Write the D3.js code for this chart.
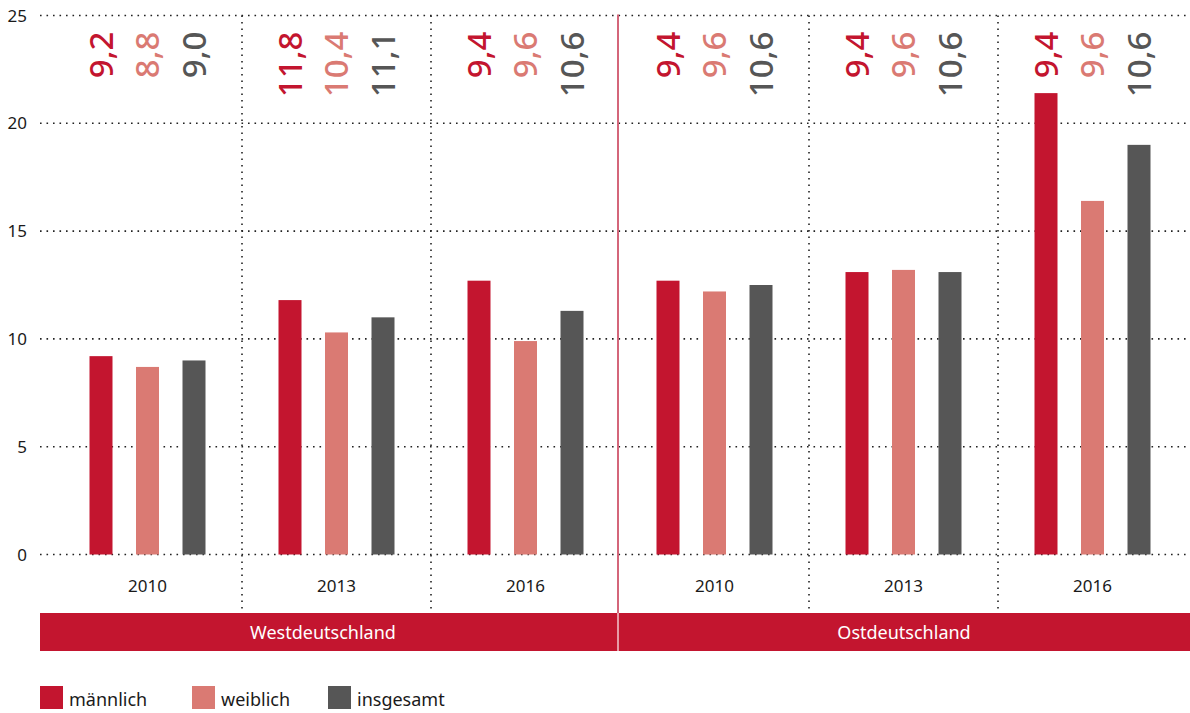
<!DOCTYPE html>
<html>
<head>
<meta charset="utf-8">
<script src="https://cdn.jsdelivr.net/npm/d3@7"></script>
<style>
  body { margin: 0; background: #fff; }
  svg { display: block; font-family: "Noto Sans", sans-serif; }
</style>
</head>
<body>
<svg id="chart" width="1190" height="713"></svg>
<script>
// data
var regions = ["Westdeutschland", "Ostdeutschland"];
var years = ["2010", "2013", "2016"];
var series = ["männlich", "weiblich", "insgesamt"];
var colors = ["#c3152f", "#da7a73", "#565656"];

// bar heights, one array per series, order: West 2010/2013/2016, Ost 2010/2013/2016
var maennlich = [9.2, 11.8, 12.7, 12.7, 13.1, 21.4];
var weiblich  = [8.7, 10.3, 9.9, 12.2, 13.2, 16.4];
var insgesamt = [9.0, 11.0, 11.3, 12.5, 13.1, 19.0];

// printed labels at the top (as they appear in the reference)
var labMaennlich = ["9,2", "11,8", "9,4", "9,4", "9,4", "9,4"];
var labWeiblich  = ["8,8", "10,4", "9,6", "9,6", "9,6", "9,6"];
var labInsgesamt = ["9,0", "11,1", "10,6", "10,6", "10,6", "10,6"];

var yTicks = [0, 5, 10, 15, 20, 25];

var svg = d3.select("#chart");
var values = [maennlich, weiblich, insgesamt];
var labels = [labMaennlich, labWeiblich, labInsgesamt];

var groups = [];
regions.forEach(function(r){
  years.forEach(function(y){ groups.push(r + "|" + y); });
});

var x = d3.scaleBand().domain(groups).range([53, 1187]);
var xs = d3.scalePoint().domain(series).range([-46.5, 46.5]);
var y = d3.scaleLinear().domain([0, 25]).range([554.5, 15.5]);
var barW = 23;
var gridLeft = 40, gridRight = 1190;

// horizontal dotted gridlines + y labels
svg.append("g").selectAll("line").data(yTicks).enter().append("line")
  .attr("x1", gridLeft).attr("x2", gridRight)
  .attr("y1", function(d){ return y(d); }).attr("y2", function(d){ return y(d); })
  .attr("stroke", "#222").attr("stroke-width", 1.6)
  .attr("stroke-dasharray", "1.6 4.9");

svg.append("g").selectAll("text").data(yTicks).enter().append("text")
  .attr("x", 27).attr("y", function(d){ return y(d); })
  .attr("dy", "0.36em").attr("text-anchor", "end")
  .attr("font-size", 17).attr("fill", "#1a1a1a")
  .text(function(d){ return d; });

// vertical dotted separators between years
var seps = groups.slice(1).filter(function(g, i){ return i !== 2; });
svg.append("g").selectAll("line").data(seps).enter().append("line")
  .attr("x1", function(d){ return x(d); }).attr("x2", function(d){ return x(d); })
  .attr("y1", y(25)).attr("y2", 613)
  .attr("stroke", "#222").attr("stroke-width", 1.6)
  .attr("stroke-dasharray", "1.6 4.9");

// bars
series.forEach(function(s, si){
  svg.append("g").selectAll("rect").data(values[si]).enter().append("rect")
    .attr("x", function(d, i){ return x(groups[i]) + x.bandwidth()/2 + xs(s) - barW/2; })
    .attr("y", function(d){ return y(d); })
    .attr("width", barW)
    .attr("height", function(d){ return y(0) - y(d); })
    .attr("fill", colors[si]);
});

// rotated value labels at the top
series.forEach(function(s, si){
  svg.append("g").selectAll("text").data(labels[si]).enter().append("text")
    .attr("transform", function(d, i){
      var cx = x(groups[i]) + x.bandwidth()/2 + xs(s);
      return "translate(" + cx + ",31.5) rotate(-90)";
    })
    .attr("dy", "0.36em")
    .attr("text-anchor", "end")
    .attr("font-size", 33)
    .attr("font-weight", 500)
    .attr("fill", colors[si])
    .text(function(d){ return d; });
});

// red divider between West and Ost
var mid = x(groups[3]) - 2;
svg.append("line")
  .attr("x1", mid).attr("x2", mid).attr("y1", y(25) - 1).attr("y2", 613)
  .attr("stroke", "#d4667a").attr("stroke-width", 2);

// year labels
svg.append("g").selectAll("text").data(groups).enter().append("text")
  .attr("x", function(d){ return x(d) + x.bandwidth()/2; })
  .attr("y", 592)
  .attr("text-anchor", "middle")
  .attr("font-size", 17).attr("fill", "#1a1a1a")
  .text(function(d){ return d.split("|")[1]; });

// region band
var bands = [[gridLeft, mid], [mid, gridRight]];
svg.append("g").selectAll("rect").data(regions).enter().append("rect")
  .attr("x", function(d, i){ return bands[i][0]; })
  .attr("width", function(d, i){ return bands[i][1] - bands[i][0]; })
  .attr("y", 613).attr("height", 38)
  .attr("fill", "#c3152f");
svg.append("line")
  .attr("x1", mid).attr("x2", mid).attr("y1", 613).attr("y2", 651)
  .attr("stroke", "#f3c9cf").attr("stroke-width", 1.5);
svg.append("g").selectAll("text").data(regions).enter().append("text")
  .attr("x", function(d, i){ return (bands[i][0] + bands[i][1]) / 2 - (i === 0 ? 6 : 0); })
  .attr("y", 639)
  .attr("text-anchor", "middle")
  .attr("font-size", 18).attr("fill", "#fff")
  .text(function(d){ return d; });

// legend
var legX = [40, 192, 328];
var leg = svg.append("g").selectAll("g").data(series).enter().append("g")
  .attr("transform", function(d, i){ return "translate(" + legX[i] + ",686)"; });
leg.append("rect").attr("width", 23).attr("height", 23)
  .attr("fill", function(d, i){ return colors[i]; });
leg.append("text").attr("x", 29).attr("y", 20)
  .attr("font-size", 18).attr("fill", "#1a1a1a")
  .text(function(d){ return d; });
</script>
</body>
</html>
